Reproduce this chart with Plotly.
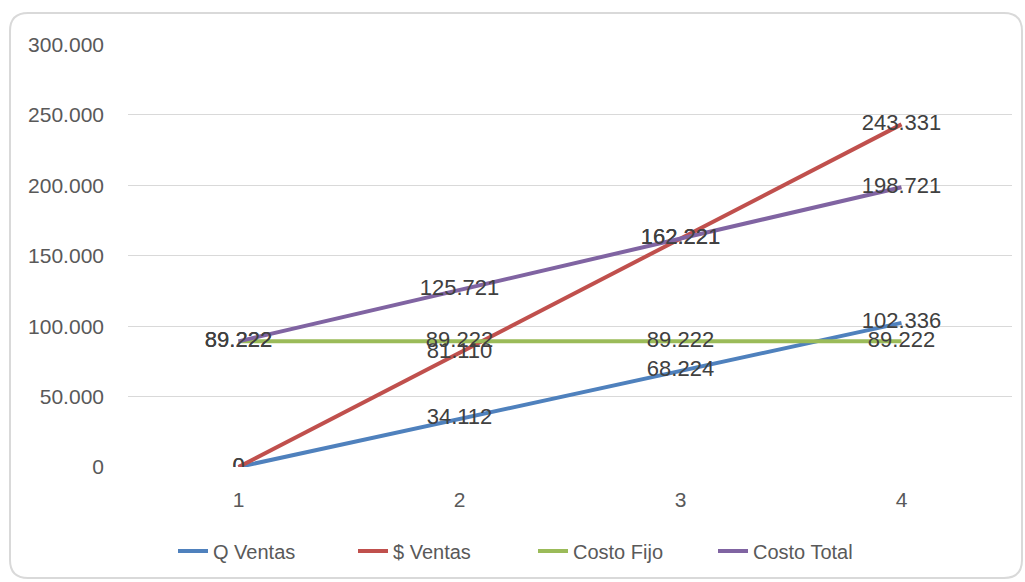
import plotly.graph_objects as go

categories = [1, 2, 3, 4]
q_ventas = [0, 34112, 68224, 102336]
s_ventas = [0, 81110, 162221, 243331]
costo_fijo = [89222, 89222, 89222, 89222]
costo_total = [89222, 125721, 162221, 198721]

series = [
    ("Q Ventas", q_ventas, "#4F81BD"),
    ("$ Ventas", s_ventas, "#C0504D"),
    ("Costo Fijo", costo_fijo, "#9BBB59"),
    ("Costo Total", costo_total, "#8064A2"),
]

W, H = 1025, 582
L, R, T, B = 128, 13, 44, 115
pw, ph = W - L - R, H - T - B

fig = go.Figure()
for name, vals, col in series:
    fig.add_trace(go.Scatter(
        x=categories, y=vals, name=name, mode="lines+text",
        line=dict(color=col, width=4),
        texttemplate="%{y:,d}", textposition="middle center",
        textfont=dict(family="Liberation Sans, Arial, sans-serif", size=22, color="#404040"),
        hoverinfo="skip",
    ))

def px2paper(x, y):
    return (x - L) / pw, (H - B - y) / ph

# rounded chart border
x0, y0, x1, y1, r = 10, 13, 1022, 578, 18
def P(x, y):
    a, b = px2paper(x, y)
    return f"{a:.5f},{b:.5f}"
path = (f"M {P(x0 + r, y0)} L {P(x1 - r, y0)} Q {P(x1, y0)} {P(x1, y0 + r)} "
        f"L {P(x1, y1 - r)} Q {P(x1, y1)} {P(x1 - r, y1)} "
        f"L {P(x0 + r, y1)} Q {P(x0, y1)} {P(x0, y1 - r)} "
        f"L {P(x0, y0 + r)} Q {P(x0, y0)} {P(x0 + r, y0)} Z")

fig.update_layout(
    width=W, height=H,
    margin=dict(l=L, r=R, t=T, b=B, pad=0),
    paper_bgcolor="white", plot_bgcolor="white",
    separators=",.",
    showlegend=True,
    legend=dict(orientation="h", x=(533 - L) / pw, xanchor="center",
                y=(H - B - 551) / ph, yanchor="middle",
                font=dict(family="Liberation Sans, Arial, sans-serif",
                          size=20, color="#595959"),
                itemwidth=30, entrywidth=135),
    xaxis=dict(range=[0.5, 4.5], tickvals=categories, ticktext=[str(c) for c in categories],
               showgrid=False, zeroline=False, showline=False, ticks="",
               ticklabelstandoff=18,
               tickfont=dict(family="Liberation Sans, Arial, sans-serif", size=21, color="#595959")),
    yaxis=dict(range=[0, 300400], tickvals=[0, 50000, 100000, 150000, 200000, 250000, 300000],
               tickformat=",d",
               showgrid=True, gridcolor="#D9D9D9", gridwidth=1.3,
               zeroline=False, showline=False, ticks="",
               ticklabelstandoff=23,
               tickfont=dict(family="Liberation Sans, Arial, sans-serif", size=21, color="#595959")),
    shapes=[dict(type="path", xref="paper", yref="paper", path=path,
                 line=dict(color="#D9D9D9", width=2), layer="below")],
)

fig.write_html("out.html")
